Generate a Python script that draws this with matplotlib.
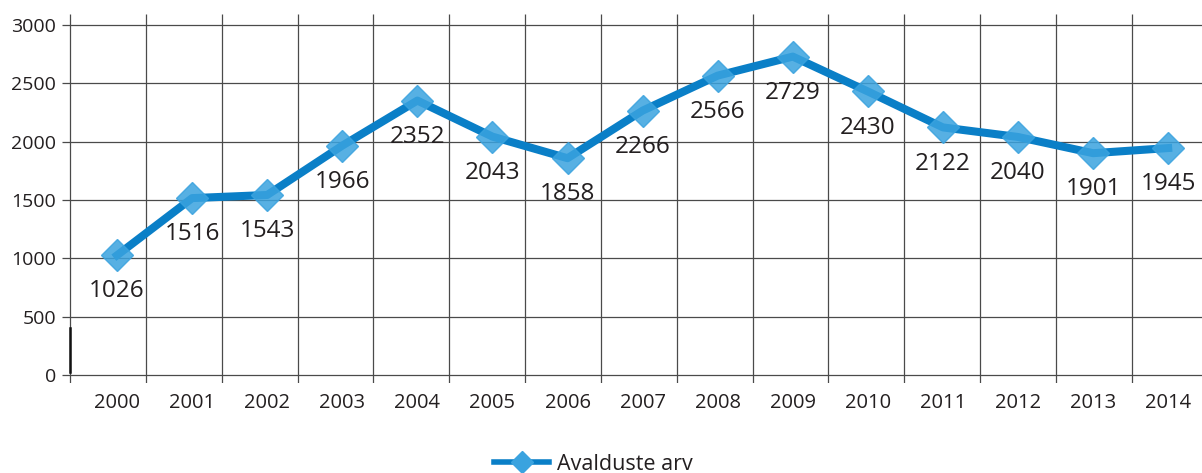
import matplotlib
matplotlib.use("Agg")
import matplotlib.pyplot as plt
from matplotlib.lines import Line2D

years = ["2000", "2001", "2002", "2003", "2004", "2005", "2006", "2007",
         "2008", "2009", "2010", "2011", "2012", "2013", "2014"]
values = [1026, 1516, 1543, 1966, 2352, 2043, 1858, 2266,
          2566, 2729, 2430, 2122, 2040, 1901, 1945]
y_ticks = [0, 500, 1000, 1500, 2000, 2500, 3000]
series_name = "Avalduste arv"

plt.rcParams['font.family'] = ['Open Sans', 'DejaVu Sans']
TEXT = "#231f20"
GRID = "#4a4a4a"
LINE = "#0a7fc7"
MARK = "#3aa3df"

W, H = 1202, 473
fig = plt.figure(figsize=(W / 100, H / 100), dpi=100)
ax = fig.add_axes([62 / W, 1 - 383 / H, (1202 - 62) / W, (383 - 14) / H])

n = len(years)
x = list(range(n))
xmin, xmax = -0.733, 14.45
ymin, ymax = -68.6, 3094
ax.set_xlim(xmin, xmax)
ax.set_ylim(ymin, ymax)

# grid: horizontal lines
for yt in y_ticks:
    ax.plot([xmin, xmax], [yt, yt], color=GRID, lw=0.9, zorder=1, solid_capstyle='butt')
# vertical category boundaries
for k in range(n):
    xv = -0.626 + 1.01 * k
    ax.plot([xv, xv], [ymin, ymax], color=GRID, lw=0.9, zorder=1, solid_capstyle='butt')
# darker segment on the y axis near the bottom
ax.plot([-0.626, -0.626], [26, 403], color="#111111", lw=1.8, zorder=1.5)

for s in ax.spines.values():
    s.set_visible(False)

ax.plot(x, values, color=LINE, lw=5.8, zorder=3, solid_joinstyle='round')
ax.plot(x, values, ls='none', marker='D', ms=16, mfc=MARK, mec=MARK, alpha=0.85, zorder=4)

for xi, v in zip(x, values):
    ax.annotate(str(v), (xi, v), xytext=(0, -26), textcoords='offset points',
                ha='center', va='center', fontsize=17.5, color=TEXT, zorder=5)

ax.set_xticks(x)
ax.set_xticklabels(years, fontsize=14.5, color=TEXT)
ax.set_yticks(y_ticks)
ax.set_yticklabels([str(t) for t in y_ticks], fontsize=14, color=TEXT)
ax.tick_params(axis='x', length=0, pad=7)
ax.tick_params(axis='y', length=0, pad=4.3)

handle = Line2D([], [], color=LINE, lw=4, marker='D', ms=11, mfc=MARK, mec=MARK)
fig.legend([handle], [series_name], loc='center', bbox_to_anchor=(0.494, 0.019),
           frameon=False, fontsize=15.5, handlelength=2.55, handletextpad=0.37,
           borderpad=0, labelcolor=TEXT)

fig.savefig("out.png", dpi=100)
